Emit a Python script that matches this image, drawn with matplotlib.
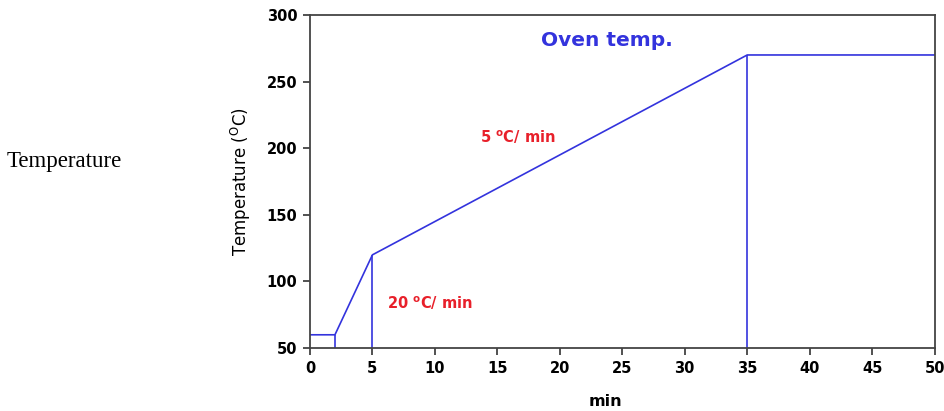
import matplotlib
matplotlib.use("Agg")
import matplotlib.pyplot as plt

# oven program
time_min = [0, 2, 5, 35, 50]
temp_c = [60, 60, 120, 270, 270]
# vertical drops marking segment ends
drop_x = [2, 5, 35]
drop_top = [60, 120, 270]

xticks = [0, 5, 10, 15, 20, 25, 30, 35, 40, 45, 50]
yticks = [50, 100, 150, 200, 250, 300]

plt.rcParams['font.family'] = ['DejaVu Sans']

fig = plt.figure(figsize=(9.45, 4.11), dpi=100)
ax = fig.add_axes([0.328, 0.153, 0.661, 0.8105])

blue = '#3333dd'
ax.plot(time_min, temp_c, color=blue, lw=1.2)
ax.vlines(drop_x, 50, drop_top, color=blue, lw=1.2)

ax.set_xlim(0, 50)
ax.set_ylim(50, 300)
ax.set_xticks(xticks)
ax.set_yticks(yticks)
ax.tick_params(direction='out', length=5, width=1.2, labelsize=10.5, color='#333333', pad=4)
for lab in ax.get_xticklabels() + ax.get_yticklabels():
    lab.set_fontweight('bold')
for s in ax.spines.values():
    s.set_color('#444444')
    s.set_linewidth(1.3)

ax.set_ylabel(r'Temperature ($^{\mathregular{O}}$C)', fontsize=12, labelpad=10)
fig.text(605 / 945, 1 - 401 / 411, 'min', fontsize=11.5, fontweight='bold', ha='center', va='center')

ax.text(23.8, 281, 'Oven temp.', color=blue, fontsize=14.5, fontweight='bold', ha='center', va='center')
ax.text(13.6, 208, '5 $^{\\mathregular{o}}$C/ min', color='#e8202a', fontsize=10.5, fontweight='bold', va='center')
ax.text(6.2, 84, '20 $^{\\mathregular{o}}$C/ min', color='#e8202a', fontsize=10.5, fontweight='bold', va='center')

fig.text(7 / 945, 1 - 162 / 411, 'Temperature', family='Liberation Serif', fontsize=16.5, va='center')

fig.savefig('out.png', dpi=100)
